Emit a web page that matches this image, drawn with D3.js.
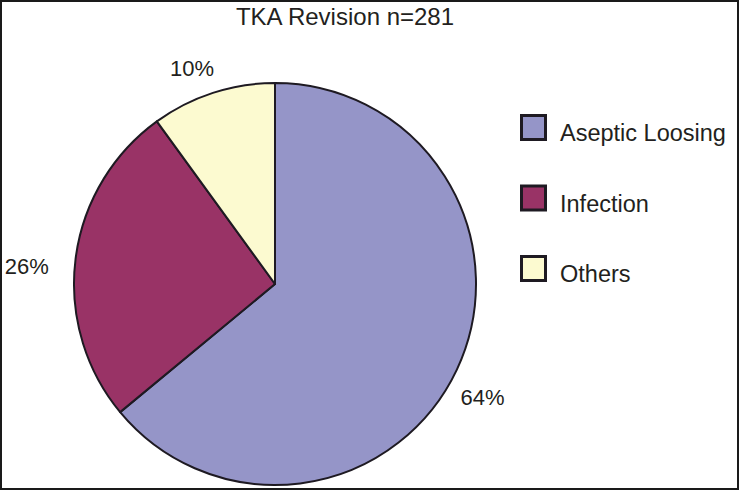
<!DOCTYPE html>
<meta charset="utf-8">
<script src="https://cdn.jsdelivr.net/npm/d3@7"></script>
<style>
body { margin: 0; background: #fff; }
text { font-family: "Liberation Sans", Arial, sans-serif; fill: #231f20; }
</style>
<body>
<script>

// chart values
var categories = ["Aseptic Loosing", "Infection", "Others"];
var percents = [64, 26, 10];
var colors = ["#9595c8", "#993366", "#fcfad0"];
var title = "TKA Revision n=281";

var width = 740,
    height = 491;

var svg = d3.select("body").append("svg")
    .attr("width", width)
    .attr("height", height);

// outer frame
svg.append("rect")
    .attr("x", 1).attr("y", 1)
    .attr("width", width - 3).attr("height", height - 3)
    .attr("fill", "#fff")
    .attr("stroke", "#1a1a1a")
    .attr("stroke-width", 2);

svg.append("text")
    .attr("x", 345)
    .attr("y", 25)
    .attr("text-anchor", "middle")
    .attr("font-size", "24px")
    .text(title);

var cx = 275, cy = 284, radius = 201;

var pie = d3.pie().sort(null).value(function(d) { return d; });
var arcs = pie(percents);

var arc = d3.arc().innerRadius(0).outerRadius(radius);
var labelArc = d3.arc().innerRadius(236).outerRadius(236);

var g = svg.append("g")
    .attr("transform", "translate(" + cx + "," + cy + ")");

g.selectAll("path")
    .data(arcs)
    .enter().append("path")
    .attr("d", arc)
    .attr("fill", function(d, i) { return colors[i]; })
    .attr("stroke", "#1e1a22")
    .attr("stroke-width", 2)
    .attr("stroke-linejoin", "round");

// small nudges so labels sit where the original places them
var nudge = [[-6, 13], [-14, 12], [-10, 9]];

g.selectAll(".lbl")
    .data(arcs)
    .enter().append("text")
    .attr("class", "lbl")
    .attr("transform", function(d, i) {
        var c = labelArc.centroid(d);
        return "translate(" + (c[0] + nudge[i][0]) + "," + (c[1] + nudge[i][1]) + ")";
    })
    .attr("text-anchor", "middle")
    .attr("dy", "0.35em")
    .attr("font-size", "22px")
    .text(function(d) { return d.data + "%"; });

// legend
var legend = svg.append("g")
    .attr("transform", "translate(521.5,115.5)");

var item = legend.selectAll("g")
    .data(categories)
    .enter().append("g")
    .attr("transform", function(d, i) { return "translate(0," + (i * 70.5) + ")"; });

item.append("rect")
    .attr("width", 24)
    .attr("height", 24)
    .attr("fill", function(d, i) { return colors[i]; })
    .attr("stroke", "#1e1a22")
    .attr("stroke-width", 3);

item.append("text")
    .attr("x", 38.5)
    .attr("y", 25.5)
    .attr("font-size", "23.5px")
    .text(function(d) { return d; });

</script>
</body>
